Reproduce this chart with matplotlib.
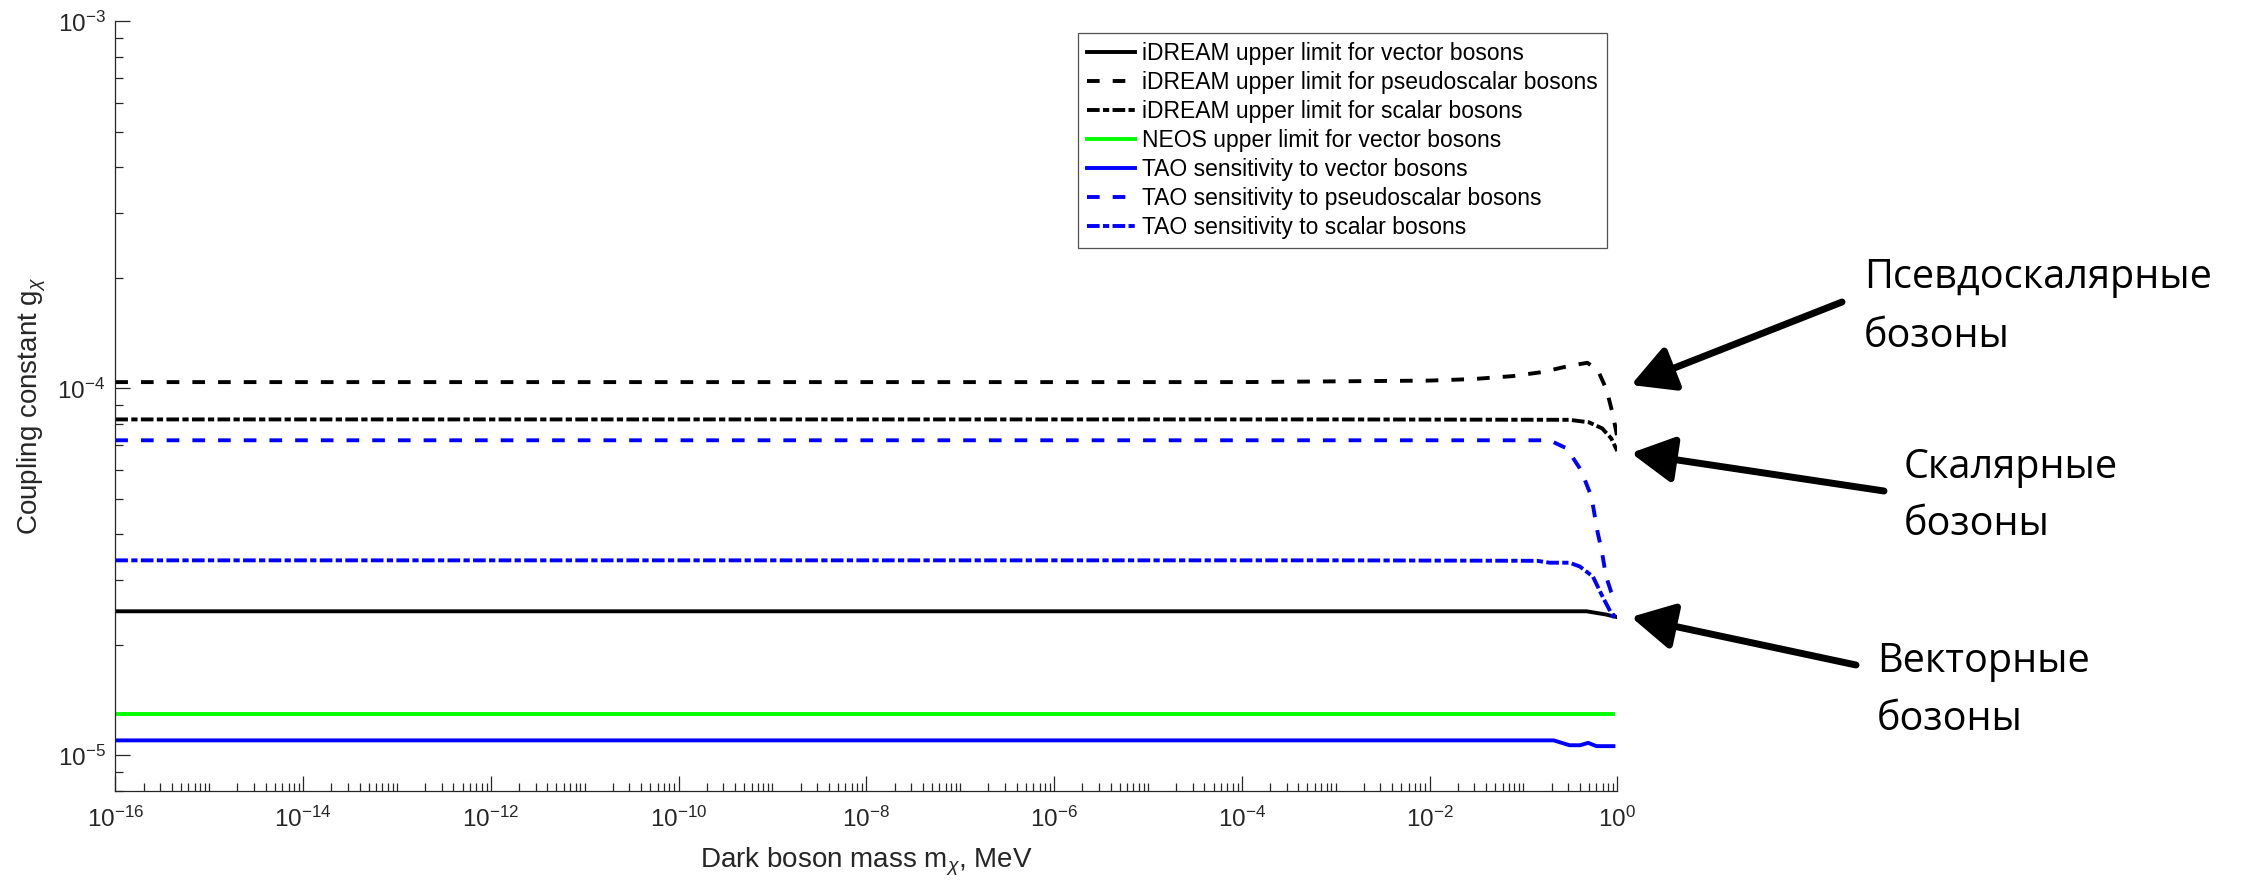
import numpy as np
import matplotlib
matplotlib.use("Agg")
import matplotlib.pyplot as plt
from matplotlib.ticker import FixedLocator, NullFormatter

plt.rcParams['font.family'] = ['Liberation Sans', 'DejaVu Sans']
plt.rcParams['mathtext.fontset'] = 'custom'
plt.rcParams['mathtext.rm'] = 'Liberation Sans'
plt.rcParams['mathtext.it'] = 'Liberation Sans:italic'
plt.rcParams['mathtext.sf'] = 'Liberation Sans'
plt.rcParams['lines.scale_dashes'] = False

# ---- data ----
# iDREAM upper limit, vector bosons
m_idream_vec = [1e-16, 1e-3, 0.47, 0.76, 1.0]
g_idream_vec = [2.47e-5, 2.47e-5, 2.47e-5, 2.42e-5, 2.38e-5]

# iDREAM upper limit, pseudoscalar bosons
m_idream_ps = [1e-16, 1e-4, 1e-3, 1e-2, 0.029, 0.077, 0.16, 0.31, 0.48, 0.62, 0.77, 0.89, 1.0]
g_idream_ps = [1.04e-4, 1.04e-4, 1.045e-4, 1.05e-4, 1.06e-4, 1.08e-4, 1.108e-4, 1.152e-4,
               1.174e-4, 1.122e-4, 9.9e-5, 8.56e-5, 7.37e-5]

# iDREAM upper limit, scalar bosons
m_idream_sc = [1e-16, 1e-3, 0.31, 0.50, 0.69, 0.86, 1.0]
g_idream_sc = [8.23e-5, 8.23e-5, 8.21e-5, 8.08e-5, 7.78e-5, 7.31e-5, 6.75e-5]

# NEOS upper limit, vector bosons
m_neos = [1e-16, 1e-3, 0.91]
g_neos = [1.30e-5, 1.30e-5, 1.30e-5]

# TAO sensitivity, vector bosons
m_tao_vec = [1e-16, 1e-3, 0.21, 0.31, 0.40, 0.49, 0.60, 0.91]
g_tao_vec = [1.099e-5, 1.099e-5, 1.099e-5, 1.066e-5, 1.066e-5, 1.082e-5, 1.060e-5, 1.060e-5]

# TAO sensitivity, pseudoscalar bosons
m_tao_ps = [1e-16, 1e-3, 0.19, 0.29, 0.41, 0.53, 0.62, 0.68, 0.76, 0.86, 1.0]
g_tao_ps = [7.22e-5, 7.22e-5, 7.22e-5, 6.86e-5, 5.99e-5, 5.07e-5, 4.03e-5, 3.63e-5,
            3.07e-5, 2.79e-5, 2.60e-5]

# TAO sensitivity, scalar bosons
m_tao_sc = [1e-16, 1e-3, 0.14, 0.19, 0.31, 0.40, 0.55, 0.70, 0.90, 1.0]
g_tao_sc = [3.40e-5, 3.40e-5, 3.39e-5, 3.35e-5, 3.35e-5, 3.27e-5, 3.07e-5, 2.70e-5,
            2.39e-5, 2.45e-5]

labels = ['iDREAM upper limit for vector bosons',
          'iDREAM upper limit for pseudoscalar bosons',
          'iDREAM upper limit for scalar bosons',
          'NEOS upper limit for vector bosons',
          'TAO sensitivity to vector bosons',
          'TAO sensitivity to pseudoscalar bosons',
          'TAO sensitivity to scalar bosons']

notes = ['Псевдоскалярные\nбозоны', 'Скалярные\nбозоны', 'Векторные\nбозоны']

# ---- figure ----
W, H = 2257, 886
fig = plt.figure(figsize=(W / 100, H / 100), dpi=100)
ax = fig.add_axes([115.3 / W, 1 - 791 / H, 1502 / W, 769.7 / H])

dash = (0, (9.1, 9.4))
dashdot = (0, (9.1, 2.4, 4.5, 2.4))
lw = 2.8
blue = '#0000ff'
green = '#00ff00'

ax.plot(m_idream_vec, g_idream_vec, color='k', lw=lw, ls='-', label=labels[0])
ax.plot(m_idream_ps, g_idream_ps, color='k', lw=lw, ls=dash, label=labels[1])
ax.plot(m_idream_sc, g_idream_sc, color='k', lw=lw, ls=dashdot, label=labels[2])
ax.plot(m_neos, g_neos, color=green, lw=lw, ls='-', label=labels[3])
ax.plot(m_tao_vec, g_tao_vec, color=blue, lw=lw, ls='-', label=labels[4])
ax.plot(m_tao_ps, g_tao_ps, color=blue, lw=lw, ls=dash, label=labels[5])
ax.plot(m_tao_sc, g_tao_sc, color=blue, lw=lw, ls=dashdot, label=labels[6])

ax.set_xscale('log')
ax.set_yscale('log')
ax.set_xlim(1e-16, 1.0)
ax.set_ylim(8e-6, 1e-3)

# ticks like matlab: inside, major every 2 decades on x
xmaj = [10.0 ** k for k in range(-16, 1, 2)]
xmin = [m * 10.0 ** k for k in range(-16, 0) for m in range(1, 10)]
ymaj = [1e-5, 1e-4, 1e-3]
ymin = [m * 10.0 ** k for k in range(-6, -3) for m in range(2, 10)]
ax.xaxis.set_major_locator(FixedLocator(xmaj))
ax.xaxis.set_minor_locator(FixedLocator(xmin))
ax.yaxis.set_major_locator(FixedLocator(ymaj))
ax.yaxis.set_minor_locator(FixedLocator(ymin))
ax.set_xticklabels([r'$10^{%d}$' % k for k in range(-16, 1, 2)])
ax.set_yticklabels([r'$10^{-5}$', r'$10^{-4}$', r'$10^{-3}$'])
ax.xaxis.set_minor_formatter(NullFormatter())
ax.yaxis.set_minor_formatter(NullFormatter())

tc = '#262626'
ax.tick_params(which='both', direction='in', colors=tc, labelcolor=tc, width=0.9)
ax.tick_params(which='major', length=10.8, labelsize=17.5)
ax.tick_params(which='minor', length=5.8)
ax.tick_params(axis='x', which='major', pad=11)
ax.tick_params(axis='y', which='major', pad=7)
for s in ['top', 'right']:
    ax.spines[s].set_visible(False)
for s in ['left', 'bottom']:
    ax.spines[s].set_color(tc)
    ax.spines[s].set_linewidth(0.9)

ax.set_xlabel(r'Dark boson mass m$_{\chi}$, MeV', fontsize=20, color=tc)
ax.xaxis.label.set_va('baseline')
ax.xaxis.set_label_coords(0.5, (791 - 868) / 769.7)
ax.set_ylabel(r'Coupling constant g$_{\chi}$', fontsize=20, color=tc)
ax.yaxis.label.set_rotation_mode('anchor')
ax.yaxis.label.set_va('baseline')
ax.yaxis.set_label_coords((37.3 - 115.3) / 1502, 0.5)

leg = ax.legend(loc='upper right', bbox_to_anchor=((1607 - 115.3) / 1502, 1 - (33 - 21.3) / 769.7),
                fontsize=16.5, frameon=True, fancybox=False, edgecolor=tc,
                handlelength=2.1, handletextpad=0.3, labelspacing=0.26,
                borderpad=0.4, borderaxespad=0)
leg.get_frame().set_linewidth(0.9)

# annotations (russian labels + arrows), in figure pixels
note_x = [1864, 1904, 1877]
note_base = [(288, 347), (478, 535), (672, 730)]
arrow_from = [(1842, 302), (1884, 491), (1856, 665)]
arrow_to = [(1631, 385), (1631, 453), (1631, 617)]
for txt, tx, bases in zip(notes, note_x, note_base):
    for line, ty in zip(txt.split('\n'), bases):
        fig.text(tx / W, 1 - ty / H, line, fontsize=28.5, family=['Open Sans', 'DejaVu Sans'],
                 ha='left', va='baseline', color='k')
for (x0, y0), (x1, y1) in zip(arrow_from, arrow_to):
    ax.annotate('', xy=(x1, H - y1), xytext=(x0, H - y0),
                xycoords='figure pixels', textcoords='figure pixels',
                arrowprops=dict(arrowstyle='-|>,head_length=1.3,head_width=0.7',
                                lw=5, color='k', mutation_scale=20, shrinkA=0, shrinkB=0))

fig.savefig('out.png', dpi=100)
